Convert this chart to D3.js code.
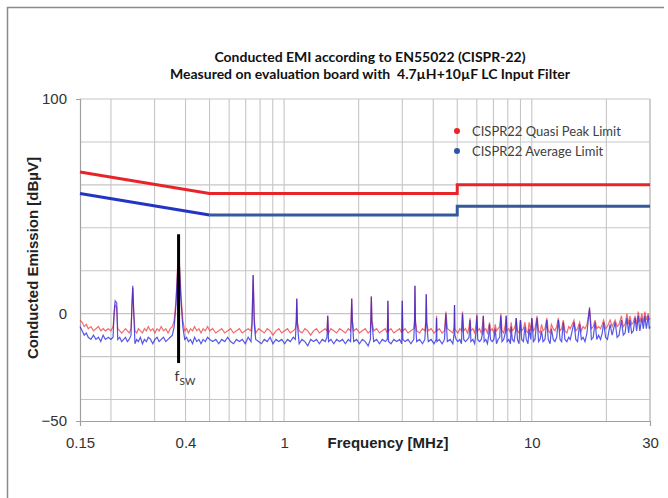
<!DOCTYPE html>
<html lang="en">
<head>
<meta charset="UTF-8"/>
<title>Conducted EMI according to EN55022</title>
<script src="https://d3js.org/d3.v7.min.js"></script>
<style>
    body { margin: 0; background: #fff; }
    svg { display: block; }
    .axis text { font-family: "Liberation Sans", Arial, sans-serif; font-size: 15px; fill: #333; }
    .axis path { stroke: #a0a0a0; stroke-width: 1.2; }
</style>
</head>
<body>
<script>

    var w = 668;
    var h = 498;

    // axis ticks and grid
    var xTicks = [0.15, 0.4, 1, 10, 30];
    var yTicks = [100, 0, -50];
    var gridFreqs = [0.2, 0.3, 0.4, 0.5, 0.6, 0.7, 0.8, 0.9, 1, 2, 3, 4, 5, 6, 7, 8, 9, 10, 20, 30];
    var gridDb = [100, 80, 60, 40, 20, 0, -20, -40];

    // CISPR22 limit lines (MHz, dBuV)
    var limitFreq = [0.15, 0.5, 5, 5, 30];
    var qpLimit = [66, 56, 56, 60, 60];
    var avgLimit = [56, 46, 46, 50, 50];

    // switching frequency marker
    var fsw = 0.375;
    var fswSpan = [37, -23];

    // measured spectrum
    var freq = [
        0.150,0.153,0.156,0.159,0.162,0.166,0.170,0.174,0.178,0.182,
        0.186,0.190,0.195,0.200,0.204,0.206,0.208,0.211,0.213,0.217,
        0.221,0.225,0.229,0.233,0.237,0.241,0.243,0.245,0.247,0.250,
        0.254,0.258,0.263,0.268,0.273,0.278,0.283,0.289,0.295,0.301,
        0.307,0.313,0.319,0.326,0.333,0.340,0.347,0.354,0.360,0.366,
        0.371,0.375,0.378,0.383,0.390,0.397,0.404,0.411,0.419,0.427,
        0.435,0.444,0.453,0.462,0.471,0.481,0.491,0.501,0.515,0.530,
        0.545,0.560,0.576,0.592,0.608,0.625,0.642,0.660,0.678,0.697,
        0.716,0.735,0.742,0.750,0.758,0.768,0.789,0.810,0.832,0.855,
        0.878,0.902,0.927,0.952,0.978,1.005,1.032,1.060,1.089,1.110,
        1.120,1.125,1.132,1.150,1.181,1.213,1.246,1.280,1.315,1.351,
        1.388,1.426,1.465,1.490,1.500,1.512,1.545,1.587,1.630,1.675,
        1.721,1.768,1.816,1.855,1.866,1.875,1.886,1.910,1.962,2.015,
        2.070,2.126,2.184,2.230,2.240,2.250,2.262,2.300,2.362,2.426,
        2.492,2.560,2.610,2.625,2.640,2.700,2.773,2.848,2.926,2.985,
        3.000,3.015,3.080,3.164,3.250,3.338,3.362,3.375,3.390,3.430,
        3.523,3.619,3.700,3.735,3.750,3.765,3.820,3.923,4.030,4.110,
        4.125,4.140,4.230,4.345,4.440,4.500,4.560,4.680,4.800,4.860,
        4.875,4.890,4.950,5.03,5.12,5.20,5.25,5.31,5.40,5.50,
        5.58,5.63,5.68,5.78,5.88,5.96,6.00,6.05,6.15,6.25,
        6.33,6.37,6.42,6.52,6.62,6.70,6.75,6.81,6.92,7.03,
        7.12,7.20,7.31,7.42,7.50,7.58,7.70,7.82,7.88,7.95,
        8.08,8.20,8.25,8.34,8.48,8.60,8.65,8.75,8.88,9.00,
        9.10,9.25,9.38,9.50,9.65,9.75,9.90,10.0,10.15,10.3,
        10.5,10.65,10.8,10.95,11.1,11.3,11.5,11.65,11.85,12.0,
        12.2,12.4,12.6,12.8,13.0,13.2,13.4,13.6,13.85,14.1,
        14.3,14.55,14.8,15.05,15.3,15.6,15.85,16.1,16.4,16.7,
        17.1,17.4,17.7,18.0,18.3,18.6,18.95,19.25,19.5,19.85,
        20.2,20.7,21.1,21.7,22.1,22.5,23.0,23.4,23.8,24.2,
        24.6,24.9,25.3,25.7,26.1,26.5,26.9,27.3,27.8,28.2,
        28.6,29.0,29.5,29.8,30.0
    ];

    var qpMeas = [
        -3,-4,-6,-5,-7,-6,-8,-7,-6,-8,
        -7,-8,-7,-8,-6,-1,4,3,-7,-8,
        -9,-8,-7,-8,-9,-7,2,12,1,-8,
        -9,-7,-8,-9,-7,-8,-6,-8,-7,-9,
        -7,-8,-6,-8,-7,-9,-7,-6,-3,6,
        20,30,24,10,-3,-8,-7,-9,-7,-8,
        -6,-8,-7,-9,-7,-8,-6,-8,-7,-9,
        -8,-7,-9,-8,-7,-9,-8,-7,-9,-8,
        -7,-8,-4,18,-3,-9,-7,-8,-9,-7,
        -8,-10,-8,-7,-9,-8,-7,-9,-8,-7,
        -3,7,-4,-8,-9,-7,-8,-10,-8,-7,
        -9,-8,-7,-8,-1,-9,-7,-8,-9,-7,
        -8,-9,-7,-8,-2,7,-3,-8,-7,-9,
        -8,-7,-9,-8,-2,8,-3,-8,-7,-9,
        -8,-7,-9,6,-8,-7,-9,-8,-7,-9,
        6,-8,-7,-9,-8,-7,-3,13,-3,-8,
        -9,-7,-8,-3,9,-4,-8,-7,-9,-8,
        -1,-8,-7,-9,-8,1,-7,-8,-9,-6,
        4,-7,-8,-9,-7,-8,1,-8,-7,-9,
        -6,-2,-8,-7,-9,-5,0,-8,-7,-9,
        -5,-1,-8,-7,-9,-6,-4,-8,-7,-9,
        -5,-8,-7,-6,0,-8,-9,-5,-1,-8,
        -7,-9,-4,-8,-7,-5,-2,-8,-9,-3,
        -8,-7,-4,-8,-9,-4,-8,-2,-8,-7,
        -1,-8,-9,-5,-8,-7,-2,-8,-9,-5,
        -7,-8,-6,-2,-8,-7,-3,-8,-9,-6,
        -7,-5,-3,-8,-7,-4,-8,-6,-7,-5,
        2,-7,-6,-3,-7,-6,-7,-5,-3,-7,
        -6,-3,-6,-3,-6,-5,-1,-6,-5,0,
        -5,-1,-5,-4,-1,-5,1,-4,0,-4,
        1,-3,0,-3,-2
    ];

    var avgMeas = [
        -6,-8,-10,-9,-11,-12,-10,-12,-11,-13,
        -10,-12,-11,-12,-11,1,6,5,-12,-11,
        -13,-12,-11,-13,-12,-10,4,13,2,-14,
        -12,-13,-11,-14,-12,-13,-11,-12,-14,-12,
        -11,-13,-12,-11,-13,-12,-11,-10,-6,4,
        18,28,22,7,-6,-12,-11,-13,-12,-14,
        -11,-13,-12,-14,-12,-13,-11,-12,-13,-12,
        -14,-12,-13,-11,-13,-14,-12,-13,-12,-14,
        -11,-13,-6,18,-5,-12,-13,-14,-12,-13,
        -11,-14,-12,-13,-12,-14,-12,-13,-11,-12,
        -4,7,-5,-14,-12,-13,-15,-12,-13,-12,
        -14,-12,-13,-11,-1,-13,-12,-14,-12,-13,
        -12,-14,-12,-13,-3,7,-4,-13,-12,-14,
        -12,-13,-15,-12,-3,8,-4,-13,-12,-14,
        -12,-13,-12,6,-13,-14,-12,-13,-12,-14,
        6,-12,-13,-12,-14,-12,-4,13,-4,-13,
        -12,-14,-12,-4,9,-5,-13,-12,-14,-12,
        -2,-13,-12,-14,-12,0,-13,-12,-14,-9,
        4,-10,-12,-13,-12,-14,0,-12,-13,-12,
        -11,-3,-13,-12,-14,-8,-1,-12,-13,-12,
        -9,-1,-13,-12,-14,-10,-5,-12,-13,-12,
        -7,-14,-12,-11,-1,-13,-12,-9,-1,-13,
        -12,-14,-6,-12,-13,-8,-2,-12,-14,-3,
        -12,-13,-6,-12,-14,-7,-12,-2,-13,-12,
        -2,-13,-12,-8,-13,-12,-3,-12,-14,-7,
        -12,-13,-11,-3,-12,-13,-4,-12,-13,-11,
        -12,-8,-4,-12,-13,-5,-12,-11,-13,-9,
        3,-12,-11,-4,-12,-10,-12,-9,-4,-11,
        -12,-5,-10,-4,-11,-10,-3,-10,-9,-2,
        -9,-3,-9,-8,-2,-8,-1,-8,-2,-7,
        -1,-7,-1,-7,-6
    ];

    var legendNames = ["CISPR22 Quasi Peak Limit", "CISPR22 Average Limit"];
    var legendColors = ["#e8242b", "#2f55a8"];

    var xScale = d3.scaleLog()
                .domain([0.15, 30])
                .range([80, 650]);

    var yScale = d3.scaleLinear()
                .domain([-50, 100])
                .range([421, 99]);

    var svg = d3.select("body")
                .append("svg")
                .attr("width", w)
                .attr("height", h);

    // outer frame (top + left edge visible)
    svg.append("path")
        .attr("d", "M7.5,498V7.5H664")
        .attr("fill", "none")
        .attr("stroke", "#8a8a8a")
        .attr("stroke-width", 1.5);

    // titles
    var title = svg.append("text")
        .attr("x", 370)
        .attr("text-anchor", "middle")
        .style("font-family", "Lato, 'Open Sans', sans-serif")
        .style("font-weight", "bold")
        .style("font-size", "14px")
        .style("white-space", "pre")
        .attr("fill", "#111");
    title.append("tspan").attr("x", 370).attr("y", 62)
        .text("Conducted EMI according to EN55022 (CISPR-22)");
    title.append("tspan").attr("x", 370).attr("y", 79)
        .text("Measured on evaluation board with  4.7\u00b5H+10\u00b5F LC Input Filter");

    // grid
    svg.selectAll(".vgrid")
        .data(gridFreqs)
        .enter()
        .append("line")
        .attr("x1", function(d) { return xScale(d); })
        .attr("x2", function(d) { return xScale(d); })
        .attr("y1", yScale(100))
        .attr("y2", yScale(-50))
        .attr("stroke", function(d) { return d == 30 ? "#a8a8a8" : "#c6c6c6"; })
        .attr("stroke-width", 1.1);

    svg.selectAll(".hgrid")
        .data(gridDb)
        .enter()
        .append("line")
        .attr("x1", xScale(0.15))
        .attr("x2", xScale(30))
        .attr("y1", function(d) { return yScale(d); })
        .attr("y2", function(d) { return yScale(d); })
        .attr("stroke", "#c6c6c6")
        .attr("stroke-width", 1.1);

    // axes
    var xAxis = d3.axisBottom(xScale)
                .tickValues(xTicks)
                .tickFormat(function(d) { return d; })
                .tickSizeInner(0)
                .tickSizeOuter(5)
                .tickPadding(16);

    var yAxis = d3.axisLeft(yScale)
                .tickValues(yTicks)
                .tickSizeInner(0)
                .tickSizeOuter(4)
                .tickPadding(13);

    svg.append("g")
        .attr("class", "axis")
        .attr("transform", "translate(0," + yScale(-50) + ")")
        .call(xAxis);

    svg.append("g")
        .attr("class", "axis")
        .attr("transform", "translate(" + xScale(0.15) + ",0)")
        .call(yAxis);

    svg.append("text")
        .attr("x", 388)
        .attr("y", 448)
        .attr("text-anchor", "middle")
        .style("font-family", "'Liberation Sans', Arial, sans-serif")
        .style("font-weight", "bold")
        .style("font-size", "15px")
        .attr("fill", "#222")
        .text("Frequency [MHz]");

    svg.append("text")
        .attr("transform", "translate(38,258) rotate(-90)")
        .attr("text-anchor", "middle")
        .style("font-family", "'Liberation Sans', Arial, sans-serif")
        .style("font-weight", "bold")
        .style("font-size", "15px")
        .attr("fill", "#222")
        .text("Conducted Emission [dB\u00b5V]");

    // limit lines
    var line = d3.line()
                .x(function(d) { return xScale(d[0]); })
                .y(function(d) { return yScale(d[1]); });

    var qpPts = d3.zip(limitFreq, qpLimit);
    var avgPts = d3.zip(limitFreq, avgLimit);

    svg.append("path")
        .attr("d", line(qpPts))
        .attr("fill", "none")
        .attr("stroke", "#e8242b")
        .attr("stroke-width", 3);

    svg.append("path")
        .attr("d", line(avgPts.slice(0, 2)))
        .attr("fill", "none")
        .attr("stroke", "#2334c4")
        .attr("stroke-width", 3);

    svg.append("path")
        .attr("d", line(avgPts.slice(1)))
        .attr("fill", "none")
        .attr("stroke", "#345a9c")
        .attr("stroke-width", 3);

    // measured traces
    var n = Math.min(freq.length, qpMeas.length, avgMeas.length);

    svg.append("path")
        .attr("d", line(d3.zip(freq, qpMeas).slice(0, n)))
        .attr("fill", "none")
        .attr("stroke", "#f03a3a")
        .attr("stroke-opacity", 0.75)
        .attr("stroke-width", 1.2);

    svg.append("path")
        .attr("d", line(d3.zip(freq, avgMeas).slice(0, n)))
        .attr("fill", "none")
        .attr("stroke", "#1f1fdc")
        .attr("stroke-opacity", 0.75)
        .attr("stroke-width", 1.2);

    // fsw marker
    svg.append("line")
        .attr("x1", xScale(fsw))
        .attr("x2", xScale(fsw))
        .attr("y1", yScale(fswSpan[0]))
        .attr("y2", yScale(fswSpan[1]))
        .attr("stroke", "#000")
        .attr("stroke-width", 3);

    var fswText = svg.append("text")
        .attr("x", xScale(fsw) - 4)
        .attr("y", 381)
        .style("font-family", "Lato, 'Open Sans', sans-serif")
        .style("font-size", "14px")
        .attr("fill", "#333");
    fswText.append("tspan").text("f");
    fswText.append("tspan").attr("dy", 4).style("font-size", "10px").text("SW");

    // legend
    var legend = svg.selectAll(".legend")
        .data(legendNames)
        .enter()
        .append("g")
        .attr("transform", function(d, i) { return "translate(457," + (131 + i * 20) + ")"; });

    legend.append("circle")
        .attr("r", 3)
        .attr("fill", function(d, i) { return legendColors[i]; });

    legend.append("text")
        .attr("x", 15)
        .attr("y", 5)
        .style("font-family", "Lato, 'Open Sans', sans-serif")
        .style("font-size", "13px")
        .attr("fill", "#404040")
        .text(function(d) { return d; });

</script>
</body>
</html>
